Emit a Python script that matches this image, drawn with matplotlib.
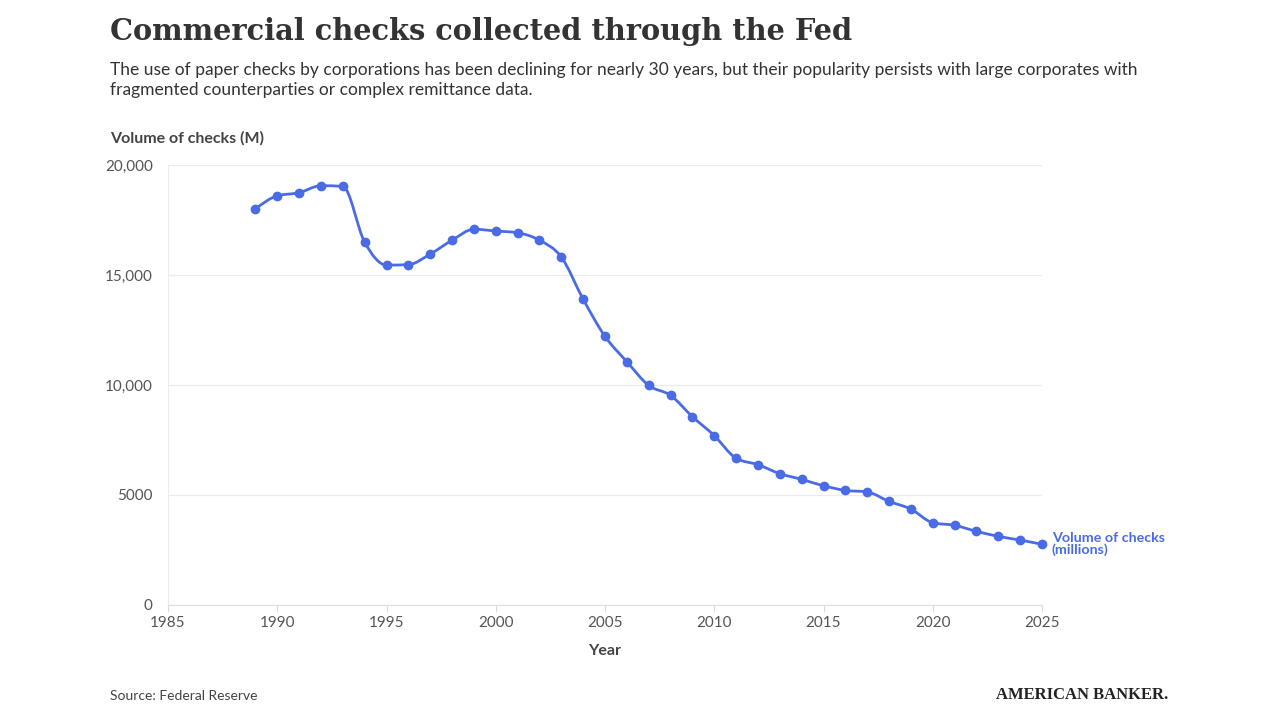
import matplotlib
matplotlib.use("Agg")
import matplotlib.pyplot as plt
import numpy as np
from matplotlib.path import Path
from matplotlib.patches import PathPatch

years = list(range(1989, 2026))
volume = [18000, 18600, 18740, 19060, 19030, 16490, 15450, 15470, 15950, 16580,
          17080, 17000, 16920, 16580, 15820, 13900, 12210, 11060, 9980, 9530,
          8560, 7700, 6670, 6380, 5970, 5710, 5420, 5210, 5140, 4710,
          4360, 3740, 3620, 3350, 3120, 2950, 2760]
y_ticks = [0, 5000, 10000, 15000, 20000]
y_tick_labels = ['0', '5000', '10,000', '15,000', '20,000']
x_ticks = list(range(1985, 2030, 5))

blue = '#4a6be6'
grey_txt = '#555555'
plt.rcParams['font.family'] = ['Lato', 'DejaVu Sans']


def monotone_path(x, y):
    # d3-style monotoneX curve as cubic bezier segments
    x, y = np.asarray(x, float), np.asarray(y, float)
    h = np.diff(x)
    s = np.diff(y) / h
    t = np.zeros_like(y)
    for i in range(1, len(y) - 1):
        p = (s[i - 1] * h[i] + s[i] * h[i - 1]) / (h[i - 1] + h[i])
        t[i] = (np.sign(s[i - 1]) + np.sign(s[i])) * min(abs(s[i - 1]), abs(s[i]), 0.5 * abs(p))
    t[0] = (3 * s[0] - t[1]) / 2
    t[-1] = (3 * s[-1] - t[-2]) / 2
    verts = [(x[0], y[0])]
    codes = [Path.MOVETO]
    for i in range(len(x) - 1):
        d = h[i] / 3
        verts += [(x[i] + d, y[i] + t[i] * d), (x[i + 1] - d, y[i + 1] - t[i + 1] * d), (x[i + 1], y[i + 1])]
        codes += [Path.CURVE4] * 3
    return Path(verts, codes)


fig = plt.figure(figsize=(12.8, 7.2), dpi=100)
ax = fig.add_axes([168 / 1280, 1 - 605 / 720, 874 / 1280, 440 / 720])

ax.add_patch(PathPatch(monotone_path(years, volume), facecolor='none', edgecolor=blue, lw=2.0, zorder=3))
ax.plot(years, volume, linestyle='none', marker='o', markersize=6, color=blue, zorder=4, clip_on=False)

ax.set_xlim(1985, 2025)
ax.set_ylim(0, 20000)
ax.set_yticks(y_ticks)
ax.set_yticklabels(y_tick_labels)
ax.set_xticks(x_ticks)
ax.grid(axis='y', color='#ececec', lw=0.9)
ax.set_axisbelow(True)
for side in ['top', 'right']:
    ax.spines[side].set_visible(False)
ax.spines['left'].set_color('#ececec')
ax.spines['bottom'].set_color('#dddddd')
ax.tick_params(axis='y', length=0, pad=11, labelsize=11, labelcolor=grey_txt)
ax.tick_params(axis='x', length=5, color='#dddddd', pad=3, labelsize=11, labelcolor=grey_txt)
ax.set_xlabel('Year', fontsize=11.5, fontweight='bold', color='#444444', labelpad=10)

ax.text(2025.45, volume[-1], 'Volume of checks\n(millions)', color=blue, fontsize=10.3,
        fontweight='bold', va='center', ha='left', linespacing=0.95, clip_on=False)

fig.text(110 / 1280, 1 - 31 / 720, 'Commercial checks collected through the Fed',
         family=['DejaVu Serif'], fontweight='bold', fontsize=20.8, color='#333333', va='center')
fig.text(110 / 1280, 1 - 80 / 720,
         'The use of paper checks by corporations has been declining for nearly 30 years, but their popularity persists with large corporates with\nfragmented counterparties or complex remittance data.',
         fontsize=12.5, color='#333333', va='center', linespacing=1.3)
fig.text(110 / 1280, 1 - 138 / 720, 'Volume of checks (M)', fontsize=11.5, fontweight='bold',
         color='#444444', va='center')
fig.text(110 / 1280, 1 - 696 / 720, 'Source: Federal Reserve', fontsize=10, color='#444444', va='center')
fig.text(1168 / 1280, 1 - 695 / 720, 'AMERICAN BANKER.', family=['Liberation Serif'],
         fontweight='bold', fontsize=12, color='#222222', va='center', ha='right')

fig.savefig('out.png', dpi=100, facecolor='white')
